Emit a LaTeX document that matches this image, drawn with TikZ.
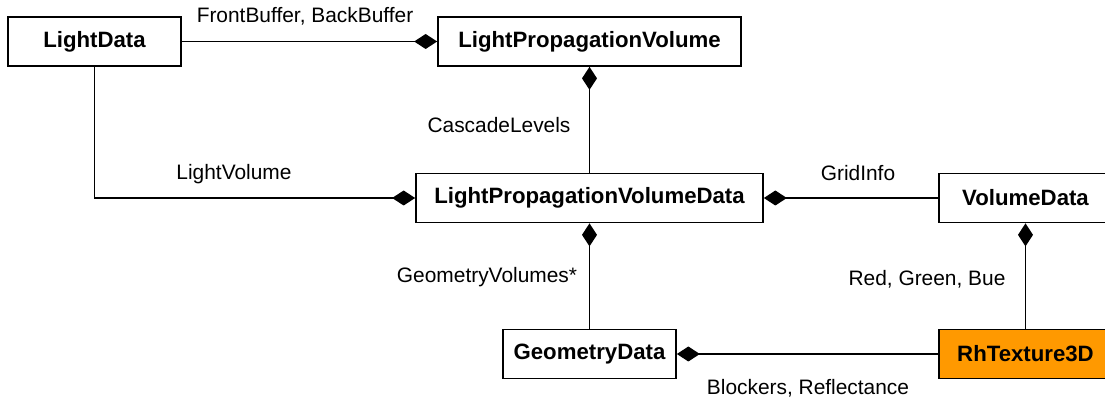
\documentclass[tikz,border=0pt]{standalone}
\usepackage{fontspec}
\setmainfont{Liberation Sans}
\usetikzlibrary{arrows.meta}
\definecolor{rhorange}{HTML}{FF9900}
\tikzset{
  cls/.style={draw=black, line width=0.85pt, fill=white, inner sep=0pt,
    minimum width=86.5pt, minimum height=24.5pt,
    font=\fontsize{11.1}{13}\selectfont\bfseries},
  assoc/.style={line width=0.8pt, -{Diamond[length=11.5pt, width=7.5pt]}},
  lbl/.style={inner sep=0pt, font=\fontsize{10.45}{12}\selectfont}
}
\begin{document}
\begin{tikzpicture}[x=0.5pt, y=-0.5pt]
  \useasboundingbox (0,0) rectangle (1105,401);
  \clip (0,0) rectangle (1105,401);
  % classes
  \node[cls] (ld)   at (94.5,41.5) {LightData};
  \node[cls, minimum width=151.5pt] (lpv)  at (589.5,41.5) {LightPropagationVolume};
  \node[cls, minimum width=173.5pt] (lpvd) at (589.5,198) {LightPropagationVolumeData};
  \node[cls] (vd)   at (1025.5,198) {VolumeData};
  \node[cls] (gd)   at (589.5,354) {GeometryData};
  \node[cls, fill=rhorange] (rh) at (1025.5,354) {RhTexture3D};
  % compositions
  \draw[assoc] (ld.east) -- (lpv.west);
  \draw[assoc] (ld.south) |- (lpvd.west);
  \draw[assoc] (lpvd.north) -- (lpv.south);
  \draw[assoc] (vd.west) -- (lpvd.east);
  \draw[assoc] (gd.north) -- (lpvd.south);
  \draw[assoc] (rh.north) -- (vd.south);
  \draw[assoc] (rh.west) -- (gd.east);
  % role labels
  \node[lbl] (l1) at (305,16) {FrontBuffer, BackBuffer};
  \node[lbl] (l2) at (234,174) {LightVolume};
  \node[lbl] (l3) at (499,125) {CascadeLevels};
  \node[lbl] (l4) at (858,173) {GridInfo};
  \node[lbl] (l5) at (487,277) {GeometryVolumes*};
  \node[lbl] (l6) at (927,279) {Red, Green, Bue};
  \node[lbl] (l7) at (808,388) {Blockers, Reflectance};
\end{tikzpicture}
\end{document}
